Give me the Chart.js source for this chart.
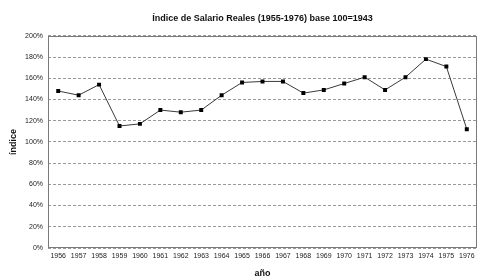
<!DOCTYPE html>
<html>
<head>
<meta charset="utf-8">
<script src="https://cdn.jsdelivr.net/npm/chart.js@4.4.1/dist/chart.umd.min.js"></script>
<style>
  html, body { margin: 0; padding: 0; background: #fff; }
  #wrap { width: 491px; height: 279px; }
</style>
</head>
<body>
<div id="wrap"><canvas id="chart_salario"></canvas></div>
<script>
// Índice de salario real, base 100 = 1943
const years = ["1956", "1957", "1958", "1959", "1960", "1961", "1962", "1963", "1964", "1965", "1966",
  "1967", "1968", "1969", "1970", "1971", "1972", "1973", "1974", "1975", "1976"];
const indice = [148, 144, 154, 115, 117, 130, 128, 130, 144, 156, 157,
  157, 146, 149, 155, 161, 149, 161, 178, 171, 112];
const yTicks = [0, 20, 40, 60, 80, 100, 120, 140, 160, 180, 200];

const fontFam = "'Liberation Sans', Arial, sans-serif";

// frame around the plot area
const frame = {
  id: "frame",
  afterDraw(chart) {
    const { ctx, chartArea: a } = chart;
    ctx.save();
    ctx.strokeStyle = "#7a7a7a";
    ctx.lineWidth = 1;
    ctx.strokeRect(Math.round(a.left) + 0.5, Math.round(a.top) + 0.5,
      Math.round(a.width) - 1, Math.round(a.height) - 1);
    ctx.restore();
  }
};

const chart1 = new Chart(document.getElementById("chart_salario"), {
  type: "line",
  data: {
    labels: years,
    datasets: [
      {
        label: "Índice",
        data: indice,
        borderColor: "#3a3a3a",
        backgroundColor: "#000",
        borderWidth: 1,
        pointStyle: "rect",
        pointRadius: 2.8,
        pointBorderWidth: 0,
        tension: 0
      }
    ]
  },
  options: {
    responsive: true,
    maintainAspectRatio: false,
    animation: false,
    layout: { padding: { left: 8, right: 14, top: 0, bottom: 0 } },
    plugins: {
      legend: { display: false },
      tooltip: { enabled: false },
      title: {
        display: true,
        fullSize: false,
        text: "Índice de Salario Reales (1955-1976) base 100=1943",
        color: "#111",
        font: { family: fontFam, size: 9, weight: "bold" },
        padding: { top: 13, bottom: 12 }
      }
    },
    scales: {
      x: {
        offset: true,
        grid: { display: false, drawTicks: false },
        border: { display: false },
        ticks: {
          color: "#222",
          font: { family: fontFam, size: 7 },
          maxRotation: 0,
          autoSkip: false,
          padding: 4
        },
        title: {
          display: true,
          text: "año",
          color: "#111",
          font: { family: fontFam, size: 9, weight: "bold" },
          padding: { top: 3, bottom: 0 }
        },
        afterFit: s => { s.height = 31; }
      },
      y: {
        min: 0,
        max: 200,
        afterBuildTicks: s => { s.ticks = yTicks.map(v => ({ value: v })); },
        grid: {
          color: "#9a9a9a",
          drawTicks: false
        },
        border: { display: false, dash: [3, 2] },
        ticks: {
          color: "#222",
          font: { family: fontFam, size: 7 },
          padding: 5,
          callback: v => v + "%"
        },
        title: {
          display: true,
          text: "índice",
          color: "#111",
          font: { family: fontFam, size: 9, weight: "bold" },
          padding: { top: 0, bottom: 10 }
        },
        afterFit: s => { s.width = 40; }
      }
    }
  },
  plugins: [frame]
});
</script>
</body>
</html>
